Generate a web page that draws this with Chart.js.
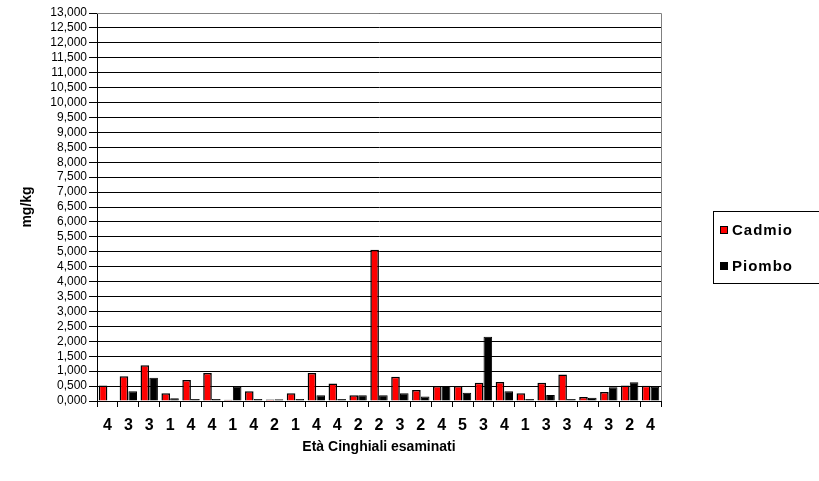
<!DOCTYPE html>
<html>
<head>
<meta charset="utf-8">
<script src="https://cdn.jsdelivr.net/npm/chart.js@4/dist/chart.umd.min.js"></script>
<style>
  html, body { margin: 0; padding: 0; background: #fff; overflow: hidden; }
  #wrap { width: 819px; height: 481px; }
</style>
</head>
<body>
<div id="wrap"><canvas id="chart" width="819" height="481"></canvas></div>
<script>
// eta' (classe) dei cinghiali esaminati
var labels = ['4','3','3','1','4','4','1','4','2','1','4','4','2','2','3','2','4','5','3','4','1','3','3','4','3','2','4'];
// mg/kg
var cadmio = [0.52,0.83,1.20,0.26,0.70,0.94,0.04,0.33,0.05,0.26,0.94,0.59,0.19,5.07,0.81,0.37,0.50,0.50,0.61,0.64,0.26,0.61,0.89,0.13,0.30,0.52,0.51];
var piombo = [0.02,0.33,0.78,0.09,0.07,0.07,0.48,0.07,0.06,0.07,0.19,0.07,0.19,0.19,0.26,0.15,0.50,0.28,2.15,0.33,0.07,0.20,0.07,0.11,0.46,0.63,0.48];
var yMax = 13, yStep = 0.5;

var FONT = 'Arial, "Liberation Sans", sans-serif';

// legend box drawn by hand (it runs off the right edge in the original)
var boxLegend = {
  id: 'boxLegend',
  afterDraw: function(chart) {
    var ctx = chart.ctx;
    var a = chart.chartArea;
    ctx.save();
    // grey frame on top/right of plot area
    ctx.strokeStyle = '#808080';
    ctx.lineWidth = 1;
    ctx.beginPath();
    ctx.moveTo(a.left, a.top + 0.5);
    ctx.lineTo(a.right + 0.5, a.top + 0.5);
    ctx.lineTo(a.right + 0.5, a.bottom);
    ctx.stroke();

    ctx.strokeStyle = '#000';
    ctx.strokeRect(713.5, 211.5, 140, 72);
    ctx.font = 'bold 15px ' + FONT;
    ctx.textBaseline = 'middle';
    var ys = [230, 266];
    chart.data.datasets.forEach(function(ds, i) {
      ctx.fillStyle = '#000';
      ctx.fillRect(720, ys[i] - 4, 8, 8);
      ctx.fillStyle = ds.backgroundColor;
      ctx.fillRect(721, ys[i] - 3, 6, 6);
      ctx.fillStyle = '#000';
      if ('letterSpacing' in ctx) ctx.letterSpacing = '1px';
      ctx.fillText(ds.label, 732, ys[i] + 1);
    });
    ctx.restore();
  }
};

new Chart(document.getElementById('chart'), {
  type: 'bar',
  data: {
    labels: labels,
    datasets: [{
      label: 'Cadmio',
      data: cadmio,
      backgroundColor: '#FF0000',
      borderColor: '#000000',
      borderWidth: 1.5,
      categoryPercentage: 0.84,
      barPercentage: 0.98
    }, {
      label: 'Piombo',
      data: piombo,
      backgroundColor: '#000000',
      borderColor: '#000000',
      borderWidth: 1,
      categoryPercentage: 0.84,
      barPercentage: 0.98
    }]
  },
  options: {
    responsive: false,
    animation: false,
    layout: { padding: { top: 13, right: 158, bottom: 0, left: 0 } },
    plugins: {
      legend: { display: false },
      tooltip: { enabled: false }
    },
    scales: {
      x: {
        grid: { drawOnChartArea: false, drawTicks: true, tickLength: 6, color: '#000', offset: true },
        border: { color: '#000', width: 1 },
        ticks: { color: '#000', font: { family: FONT, size: 16, weight: 'bold' }, padding: 9, maxRotation: 0, autoSkip: false },
        title: { display: true, text: 'Età Cinghiali esaminati', color: '#000', font: { family: FONT, size: 14, weight: 'bold' }, padding: { top: 0, bottom: 25 } },
        afterFit: function(s) { s.height = 80; }
      },
      y: {
        min: 0,
        max: yMax,
        grid: { color: '#000', lineWidth: 1, tickLength: 8, drawTicks: true },
        border: { color: '#000', width: 1 },
        ticks: {
          stepSize: yStep,
          autoSkip: false,
          color: '#000',
          padding: 2,
          font: { family: FONT, size: 12 },
          callback: function(v) { return Number(v).toFixed(3).replace('.', ','); }
        },
        title: { display: true, text: 'mg/kg', color: '#000', font: { family: FONT, size: 14, weight: 'bold' }, padding: { top: 19, bottom: 0 } },
        afterFit: function(s) { s.width = 97; }
      }
    }
  },
  plugins: [boxLegend]
});
</script>
</body>
</html>
